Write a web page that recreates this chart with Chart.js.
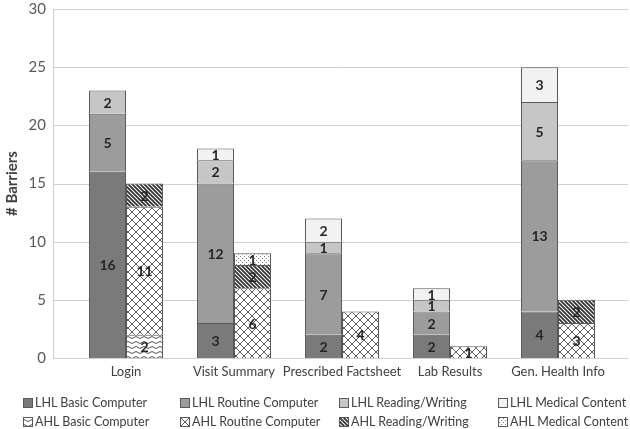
<!DOCTYPE html>
<html>
<head>
<meta charset="utf-8">
<script src="https://cdn.jsdelivr.net/npm/chart.js@4.4.0/dist/chart.umd.min.js"></script>
<style>
  body { margin: 0; background: #fff; }
  #wrap { position: relative; width: 630px; height: 429px; }
  #legend { position: absolute; left: 0; top: 0; width: 630px; height: 429px; pointer-events: none;
            font: 12.5px Lato, sans-serif; color: #404040; }
  .item { position: absolute; white-space: nowrap; line-height: 16px; }
  .box { display: inline-block; width: 8px; height: 8px; border: 1px solid #595959; margin-right: 2px; vertical-align: -1px; }
</style>
</head>
<body>
<div id="wrap">
  <canvas id="barriersChart"></canvas>
  <div id="legend"></div>
</div>
<script>
const categories = ['Login', 'Visit Summary', 'Prescribed Factsheet', 'Lab Results', 'Gen. Health Info'];

// low health literacy
const lhlBasic = [16, 3, 2, 2, 4];
const lhlRoutine = [5, 12, 7, 2, 13];
const lhlReading = [2, 2, 1, 1, 5];
const lhlMedical = [0, 1, 2, 1, 3];

// adequate health literacy
const ahlBasic = [2, 0, 0, 0, 0];
const ahlRoutine = [11, 6, 4, 1, 3];
const ahlReading = [2, 2, 0, 0, 2];
const ahlMedical = [0, 1, 0, 0, 0];

const yTicks = [0, 5, 10, 15, 20, 25, 30];

function makeTile(kind) {
    const sizes = { wave: [8, 5], diamond: [8, 8], stripes: [4, 4], dots: [4, 4] };
    const c = document.createElement('canvas');
    c.width = sizes[kind][0];
    c.height = sizes[kind][1];
    const g = c.getContext('2d');
    g.fillStyle = '#fff';
    g.fillRect(0, 0, c.width, c.height);
    g.strokeStyle = '#555';
    g.lineWidth = 1;
    g.beginPath();
    if (kind === 'wave') {
        g.moveTo(0, 1.5); g.lineTo(4, 3.5); g.lineTo(8, 1.5);
    } else if (kind === 'diamond') {
        g.strokeStyle = '#5e5e5e';
        g.moveTo(0, 0); g.lineTo(8, 8);
        g.moveTo(8, 0); g.lineTo(0, 8);
    } else if (kind === 'stripes') {
        g.strokeStyle = '#333';
        g.lineWidth = 1.8;
        g.moveTo(-1, -1); g.lineTo(5, 5);
        g.moveTo(-1, 3); g.lineTo(1, 5);
        g.moveTo(3, -1); g.lineTo(5, 1);
    } else if (kind === 'dots') {
        g.fillStyle = '#777';
        g.fillRect(0, 0, 1, 1);
        g.fillRect(2, 2, 1, 1);
    }
    g.stroke();
    return c;
}

document.addEventListener('DOMContentLoaded', function () {
    Chart.defaults.font.family = 'Lato, sans-serif';

    const ctx = document.getElementById('barriersChart').getContext('2d');

    const tiles = {
        wave: makeTile('wave'),
        diamond: makeTile('diamond'),
        stripes: makeTile('stripes'),
        dots: makeTile('dots')
    };
    const pat = k => ctx.createPattern(tiles[k], 'repeat');

    const series = [
        { label: 'LHL Basic Computer', data: lhlBasic, stack: 'LHL', fill: '#7a7a7a' },
        { label: 'LHL Routine Computer', data: lhlRoutine, stack: 'LHL', fill: '#9c9c9c' },
        { label: 'LHL Reading/Writing', data: lhlReading, stack: 'LHL', fill: '#c6c6c6' },
        { label: 'LHL Medical Content', data: lhlMedical, stack: 'LHL', fill: '#f2f2f2' },
        { label: 'AHL Basic Computer', data: ahlBasic, stack: 'AHL', tile: 'wave' },
        { label: 'AHL Routine Computer', data: ahlRoutine, stack: 'AHL', tile: 'diamond' },
        { label: 'AHL Reading/Writing', data: ahlReading, stack: 'AHL', tile: 'stripes' },
        { label: 'AHL Medical Content', data: ahlMedical, stack: 'AHL', tile: 'dots' }
    ];

    const axisLines = {
        id: 'axisLines',
        beforeDatasetsDraw(chart) {
            const c = chart.ctx;
            const y = chart.scales.y;
            c.save();
            c.strokeStyle = '#d0d0d0';
            c.lineWidth = 1;
            c.beginPath();
            yTicks.forEach(v => {
                const py = Math.round(y.getPixelForValue(v)) + 0.5;
                c.moveTo(53, py);
                c.lineTo(628, py);
            });
            c.moveTo(53.5, Math.round(y.getPixelForValue(30)));
            c.lineTo(53.5, Math.round(y.getPixelForValue(0)) + 1);
            c.stroke();
            c.restore();
        }
    };

    const segmentLabels = {
        id: 'segmentLabels',
        afterDatasetsDraw(chart) {
            const c = chart.ctx;
            c.save();
            c.font = 'bold 14px Lato, sans-serif';
            c.fillStyle = '#262626';
            c.textAlign = 'center';
            c.textBaseline = 'middle';
            chart.data.datasets.forEach((ds, i) => {
                chart.getDatasetMeta(i).data.forEach((bar, j) => {
                    const v = ds.data[j];
                    if (!v) return;
                    const p = bar.getProps(['x', 'y', 'base'], true);
                    c.fillText(String(v), p.x, (p.y + p.base) / 2 + 1);
                });
            });
            c.restore();
        }
    };

    const chartData = {
        labels: categories,
        datasets: series.map(s => ({
            label: s.label,
            data: s.data,
            stack: s.stack,
            backgroundColor: s.tile ? pat(s.tile) : s.fill,
            borderColor: '#595959',
            borderWidth: 1,
            barPercentage: 1,
            categoryPercentage: 0.685
        }))
    };

    const config = {
        type: 'bar',
        data: chartData,
        options: {
            responsive: true,
            maintainAspectRatio: false,
            animation: false,
            layout: { padding: { top: -2, right: 18, bottom: 0, left: 0 } },
            plugins: {
                legend: { display: false },
                tooltip: { enabled: false }
            },
            scales: {
                x: {
                    stacked: true,
                    grid: { display: false, drawTicks: true, tickLength: 6 },
                    border: { display: false },
                    ticks: { color: '#404040', font: { size: 13 }, padding: 0, maxRotation: 0, autoSkip: false },
                    afterFit: s => { s.height = 71; }
                },
                y: {
                    stacked: true,
                    min: 0,
                    max: 30,
                    grid: { display: false, drawTicks: true, tickLength: 26 },
                    border: { display: false },
                    ticks: { color: '#595959', font: { size: 15 }, padding: 0 },
                    afterBuildTicks: s => { s.ticks = yTicks.map(v => ({ value: v })); },
                    title: {
                        display: true,
                        text: '# Barriers',
                        color: '#404040',
                        font: { size: 15, weight: 'bold' },
                        padding: { top: 3, bottom: 0 }
                    },
                    afterFit: s => { s.width = 72; }
                }
            }
        },
        plugins: [axisLines, segmentLabels]
    };

    new Chart(ctx, config);

    // legend in a 4-column grid below the axis
    const cols = [23, 180, 339, 498];
    const rows = [395, 414];
    const legend = document.getElementById('legend');
    series.forEach((s, i) => {
        const item = document.createElement('div');
        item.className = 'item';
        item.style.left = cols[i % 4] + 'px';
        item.style.top = rows[Math.floor(i / 4)] + 'px';
        const box = document.createElement('span');
        box.className = 'box';
        if (s.tile) {
            box.style.backgroundImage = 'url(' + tiles[s.tile].toDataURL() + ')';
        } else {
            box.style.background = s.fill;
        }
        item.appendChild(box);
        item.appendChild(document.createTextNode(s.label));
        legend.appendChild(item);
    });
});
</script>
</body>
</html>
